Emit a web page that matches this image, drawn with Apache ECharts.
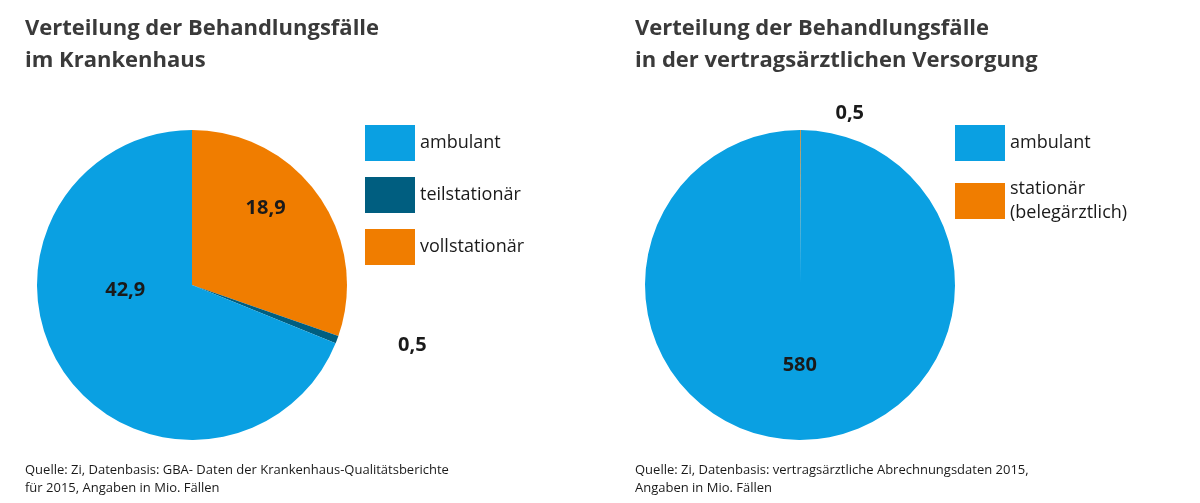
<!DOCTYPE html>
<html><head><meta charset="utf-8">
<script src="https://cdn.jsdelivr.net/npm/echarts@6/dist/echarts.min.js"></script>
<style>html,body{margin:0;background:#fff}#c{width:1200px;height:503px}</style>
</head><body><div id="c"></div>
<script>
const leftNames = ['vollstationär','teilstationär','ambulant'];
const leftValues = [18.9, 0.5, 42.9];
const leftLabels = ['18,9','0,5','42,9'];
const rightNames = ['stationär\n(belegärztlich)','ambulant'];
const rightValues = [0.5, 580];
const rightLabels = ['0,5','580'];
const BLUE='#0aa0e2', TEAL='#005e80', ORANGE='#f07d00';
const F='"Open Sans", "Noto Sans", sans-serif';
const chart = echarts.init(document.getElementById('c'));
const lblBase = {fontFamily:F,fontSize:20,fontWeight:'bold',color:'#1a1a1a'};
chart.setOption({
  animation:false,
  title:[
    {text:'Verteilung der Behandlungsfälle\nim Krankenhaus',left:20,top:8,textStyle:{fontFamily:F,fontSize:22,fontWeight:'bold',color:'#3a3a3a',lineHeight:32}},
    {text:'Verteilung der Behandlungsfälle\nin der vertragsärztlichen Versorgung',left:630,top:8,textStyle:{fontFamily:F,fontSize:22,fontWeight:'bold',color:'#3a3a3a',lineHeight:32}},
    {text:'Quelle: Zi, Datenbasis: GBA- Daten der Krankenhaus-Qualitätsberichte\nfür 2015, Angaben in Mio. Fällen',left:20,top:456,textStyle:{fontFamily:F,fontSize:13,fontWeight:'normal',color:'#1a1a1a',lineHeight:18}},
    {text:'Quelle: Zi, Datenbasis: vertragsärztliche Abrechnungsdaten 2015,\nAngaben in Mio. Fällen',left:630,top:456,textStyle:{fontFamily:F,fontSize:13,fontWeight:'normal',color:'#1a1a1a',lineHeight:18}}
  ],
  legend:[
    {seriesIndex:0,data:['ambulant','teilstationär','vollstationär'],orient:'vertical',left:360,top:120,itemWidth:50,itemHeight:36,itemGap:16,icon:'rect',textStyle:{fontFamily:F,fontSize:18,color:'#1a1a1a'},selectedMode:false},
    {data:['ambulant ','stationär\n(belegärztlich)'],orient:'vertical',left:950,top:120,itemWidth:50,itemHeight:36,itemGap:16,icon:'rect',textStyle:{fontFamily:F,fontSize:18,color:'#1a1a1a',lineHeight:24},selectedMode:false}
  ],
  series:[
    {type:'pie',center:[192,285],radius:[0,155],startAngle:90,clockwise:true,
     label:{show:true,position:'inside',...lblBase},labelLine:{show:false},
     data:leftValues.map((v,i)=>({name:leftNames[i],value:v,
       itemStyle:{color:[ORANGE,TEAL,BLUE][i]},
       label:i===1?{position:'outside',formatter:leftLabels[i],offset:[12,0]}:
             {formatter:leftLabels[i],offset:i===0?[8,-30]:[0,-40]}}))},
    {type:'pie',center:[800,285],radius:[0,155],startAngle:90,clockwise:true,
     label:{show:true,position:'inside',...lblBase},labelLine:{show:false},
     data:rightValues.map((v,i)=>({name:i===1?'ambulant ':rightNames[i],value:v,
       itemStyle:{color:[ORANGE,BLUE][i]},
       label:i===0?{position:'outside',formatter:rightLabels[i],offset:[0,-2]}:{formatter:rightLabels[i]}}))}
  ]
});
</script></body></html>
